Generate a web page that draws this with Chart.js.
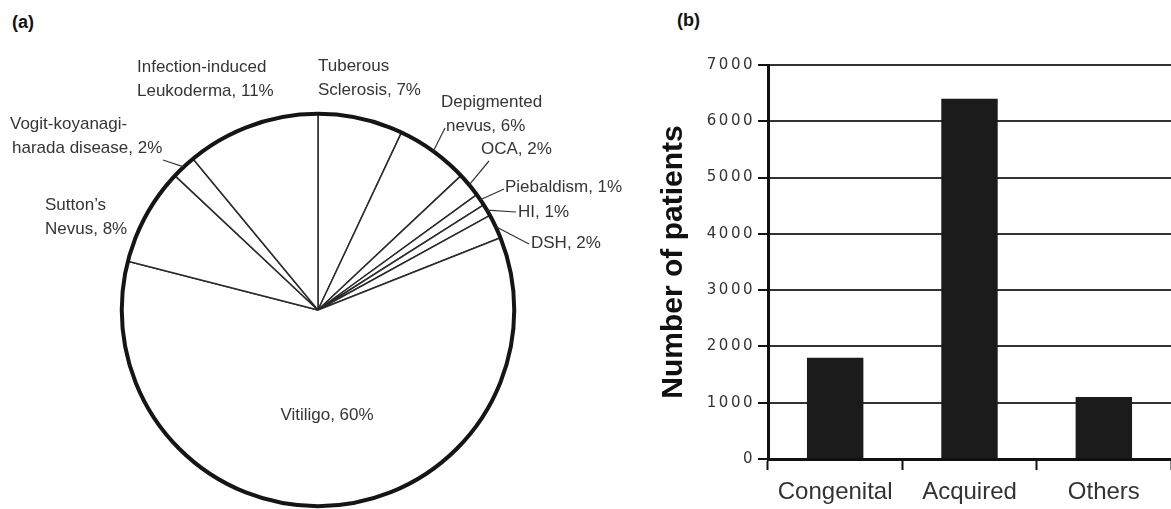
<!DOCTYPE html>
<html>
<head>
<meta charset="utf-8">
<title>Leukoderma patients</title>
<script src="https://cdn.jsdelivr.net/npm/chart.js@4.4.1/dist/chart.umd.min.js"></script>
<style>
  body { margin: 0; background: #fff; width: 1171px; height: 509px; overflow: hidden; position: relative;
         font-family: "Liberation Sans", Arial, sans-serif; }
  .panel { position: absolute; top: 0; height: 509px; }
  #pieBox { left: 0; width: 640px; }
  #barBox { left: 640px; width: 531px; }
  .tag { position: absolute; font-weight: bold; font-size: 18px; color: #111; }
</style>
</head>
<body>
<div class="tag" style="left:12px;top:12px">(a)</div>
<div class="tag" style="left:677px;top:10px">(b)</div>
<div id="pieBox" class="panel"><canvas id="pieChart"></canvas></div>
<div id="barBox" class="panel"><canvas id="barChart"></canvas></div>
<script>
// (a) share of diagnoses, clockwise from 12 o'clock
const pieNames = ['Tuberous Sclerosis', 'Depigmented nevus', 'OCA', 'Piebaldism', 'HI', 'DSH',
                  'Vitiligo', 'Sutton\u2019s Nevus', 'Vogit-koyanagi-harada disease', 'Infection-induced Leukoderma'];
const piePercents = [7, 6, 2, 1, 1, 2, 60, 8, 2, 11];

// (b) patient counts
const barCategories = ['Congenital', 'Acquired', 'Others'];
const barPatients = [1800, 6400, 1100];
const yMax = 7000;
const yStep = 1000;

Chart.defaults.font.family = '"Liberation Sans", Arial, sans-serif';

// where each pie label sits (canvas px), where it breaks, and where its leader starts
const pieLabelLayout = [
    { x: 318, y: 66, br: 8 },
    { x: 441, y: 102, br: 11, dx2: 5, lead: [445, 128] },
    { x: 481, y: 149, lead: [489, 161] },
    { x: 505, y: 187, lead: [504, 189] },
    { x: 518, y: 212, lead: [516, 212] },
    { x: 531, y: 243, lead: [529, 244] },
    { x: 327, y: 415, align: 'center' },
    { x: 45, y: 205, br: 8 },
    { x: 10, y: 124, br: 15, dx2: 2, lead: [163, 160] },
    { x: 137, y: 67, br: 17 }
];

const pieDecor = {
    id: 'pieDecor',
    afterDatasetsDraw(chart) {
        const ctx = chart.ctx;
        const arcs = chart.getDatasetMeta(0).data;
        const first = arcs[0];
        ctx.save();
        // heavy rim
        ctx.beginPath();
        ctx.arc(first.x, first.y, first.outerRadius, 0, Math.PI * 2);
        ctx.lineWidth = 4;
        ctx.strokeStyle = '#151515';
        ctx.stroke();

        ctx.font = '17px "Liberation Sans", Arial, sans-serif';
        ctx.fillStyle = '#353535';
        ctx.textBaseline = 'middle';
        ctx.strokeStyle = '#333';
        ctx.lineWidth = 1.2;
        arcs.forEach((arc, i) => {
            const lay = pieLabelLayout[i];
            const text = pieNames[i] + ', ' + piePercents[i] + '%';
            const lines = lay.br ? [text.slice(0, lay.br).trim(), text.slice(lay.br).trim()] : [text];
            ctx.textAlign = lay.align || 'left';
            lines.forEach((ln, k) => ctx.fillText(ln, lay.x + (k ? (lay.dx2 || 0) : 0), lay.y + k * 24));
            if (lay.lead) {
                const mid = (arc.startAngle + arc.endAngle) / 2;
                ctx.beginPath();
                ctx.moveTo(lay.lead[0], lay.lead[1]);
                ctx.lineTo(arc.x + Math.cos(mid) * arc.outerRadius, arc.y + Math.sin(mid) * arc.outerRadius);
                ctx.stroke();
            }
        });
        ctx.restore();
    }
};

new Chart(document.getElementById('pieChart'), {
    type: 'pie',
    data: {
        labels: pieNames,
        datasets: [{
            data: piePercents,
            backgroundColor: '#fff',
            borderColor: '#2a2a2a',
            borderWidth: 1.5
        }]
    },
    options: {
        responsive: true,
        maintainAspectRatio: false,
        animation: false,
        layout: { padding: { left: 121, right: 125, top: 113, bottom: 2 } },
        plugins: { legend: { display: false }, tooltip: { enabled: false } }
    },
    plugins: [pieDecor]
});

new Chart(document.getElementById('barChart'), {
    type: 'bar',
    data: {
        labels: barCategories,
        datasets: [{
            data: barPatients,
            backgroundColor: '#1b1b1b',
            categoryPercentage: 1,
            barPercentage: 0.42
        }]
    },
    options: {
        responsive: true,
        maintainAspectRatio: false,
        animation: false,
        layout: { padding: { top: 65, right: 0, left: 0, bottom: 0 } },
        plugins: { legend: { display: false }, tooltip: { enabled: false } },
        scales: {
            x: {
                grid: { drawOnChartArea: false, tickLength: 11, tickWidth: 2, tickColor: '#111' },
                border: { width: 3, color: '#111' },
                ticks: { color: '#333', font: { size: 24 }, padding: 8 },
                afterFit(s) { s.height = 50; }
            },
            y: {
                min: 0,
                max: yMax,
                ticks: {
                    stepSize: yStep,
                    color: '#333',
                    font: { family: '"DejaVu Sans"', size: 15 },
                    padding: 3,
                    callback: v => String(v)
                },
                grid: { color: '#333', lineWidth: 2, tickLength: 10, tickColor: '#111', tickWidth: 2 },
                border: { width: 3, color: '#111' },
                title: {
                    display: true,
                    text: 'Number of patients',
                    color: '#111',
                    font: { size: 30, weight: 'bold' },
                    padding: { top: 16, bottom: 0 }
                },
                afterFit(s) {
                    s.width = 128;
                    // the tick numbers in the original are widely spaced
                    if (!s._spaced) {
                        const draw = s.drawLabels.bind(s);
                        s.drawLabels = function (area) {
                            this.ctx.save();
                            this.ctx.letterSpacing = '2.5px';
                            draw(area);
                            this.ctx.restore();
                        };
                        s._spaced = true;
                    }
                }
            }
        }
    }
});
</script>
</body>
</html>
